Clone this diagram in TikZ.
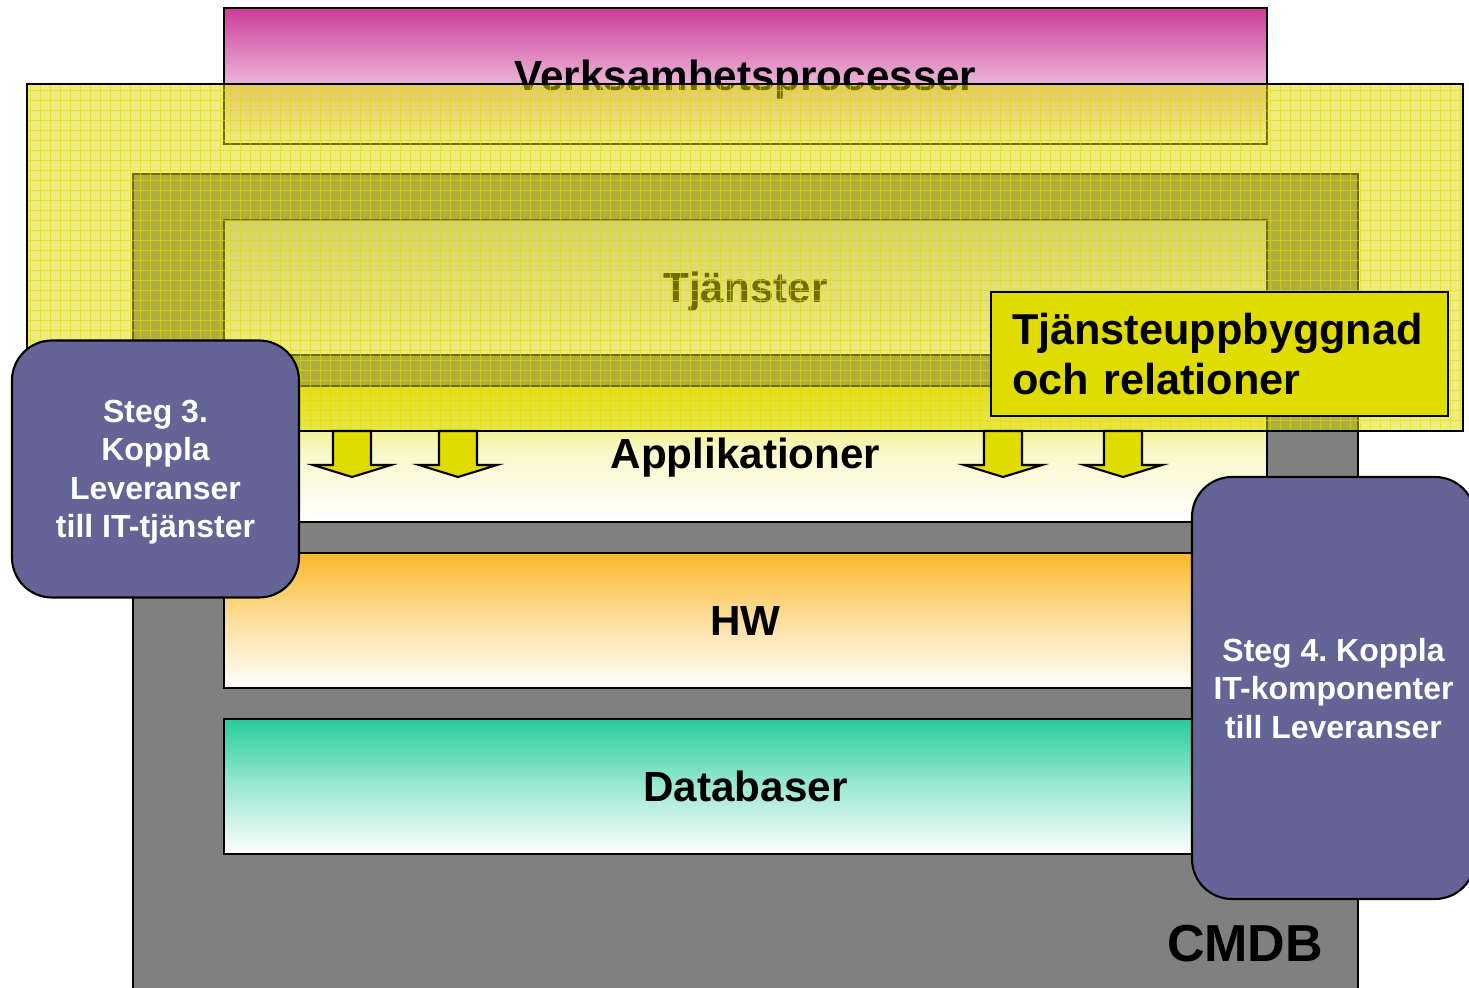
\documentclass[tikz,border=0pt]{standalone}
\usepackage{fontspec}
\setmainfont{Liberation Sans}
\frenchspacing
\definecolor{CmdbGray}{HTML}{808080}
\definecolor{CmdbMagenta}{HTML}{CC3D99}
\definecolor{CmdbYellow}{HTML}{E0DC00}
\definecolor{CmdbPurple}{HTML}{646496}
\definecolor{CmdbOrange}{HTML}{FBB829}
\definecolor{CmdbTeal}{HTML}{26CC9A}
\tikzset{
  layerbox/.style={draw=black,line width=0.6pt,minimum width=10.43cm,minimum height=1.355cm,
    inner sep=0pt,text height=0.30cm,text depth=0pt,font=\bfseries\fontsize{12}{14.4}\selectfont},
  stegbox/.style={draw=black,line width=0.6pt,fill=CmdbPurple,rounded corners=0.4cm,text=white,
    align=center,text depth=0pt,font=\bfseries\fontsize{9.1}{10.95}\selectfont},
  downblock/.style={draw=black,line width=0.6pt,fill=CmdbYellow,line join=miter}
}

\begin{document}
\begin{tikzpicture}[x=1cm,y=-1cm]
        \useasboundingbox (0,0) rectangle (14.69,9.88);
        \clip (0,0) rectangle (14.69,9.88);

        % CMDB back plate
        \draw[fill=CmdbGray,line width=0.6pt] (1.33,1.74) rectangle (13.58,10.20);

        \node[layerbox,top color=CmdbMagenta,bottom color=white,middle color=CmdbMagenta!45!white]
          (vp) at (7.455,0.76) {Verksamhetsprocesser};
        \node[layerbox,top color=CmdbPurple!35!white,bottom color=white]
          (tj) at (7.455,2.875) {Tjänster};
        \node[layerbox,top color=CmdbYellow!80!white,bottom color=white,middle color=CmdbYellow!20!white]
          (app) at (7.455,4.54) {Applikationer};

        % yellow see-through layer
        \fill[CmdbYellow,fill opacity=0.5] (0.27,0.84) rectangle (14.63,4.31);
        \begin{scope}
          \clip (0.27,0.84) rectangle (14.63,4.31);
          \draw[CmdbYellow,line width=0.2pt,draw opacity=0.6,step=1mm] (0,0) grid (14.7,4.4);
        \end{scope}
        \draw[line width=0.6pt] (0.27,0.84) rectangle (14.63,4.31);

        \node[layerbox,top color=CmdbOrange,bottom color=white,middle color=CmdbOrange!45!white]
          (hw) at (7.455,6.205) {HW};
        \node[layerbox,top color=CmdbTeal,bottom color=white,middle color=CmdbTeal!45!white]
          (db) at (7.455,7.865) {Databaser};

        \foreach \ax in {3.52,4.58,10.03,11.23}
          \draw[downblock] (\ax-0.19,4.31) -- (\ax-0.19,4.65) -- (\ax-0.39,4.65) -- (\ax,4.77)
            -- (\ax+0.39,4.65) -- (\ax+0.19,4.65) -- (\ax+0.19,4.31) -- cycle;

        \node[draw=black,line width=0.6pt,fill=CmdbYellow,minimum width=4.57cm,minimum height=1.24cm,
          text width=4.15cm,inner xsep=0.21cm,align=left,font=\bfseries\fontsize{12.3}{14.2}\selectfont]
          (tu) at (12.195,3.54) {Tjänsteuppbyggnad\\och relationer};

        \node[stegbox,minimum width=2.87cm,minimum height=2.57cm]
          (steg3) at (1.555,4.69) {Steg 3.\\Koppla\\Leveranser\\till IT-tjänster};
        \node[stegbox,minimum width=2.83cm,minimum height=4.22cm]
          (steg4) at (13.335,6.88) {Steg 4. Koppla\\IT-komponenter\\till Leveranser};

        \node[anchor=base,inner sep=0pt,font=\bfseries\fontsize{14.8}{17.8}\selectfont]
          (cmdb) at (12.45,9.62) {CMDB};
      \end{tikzpicture}
\end{document}
